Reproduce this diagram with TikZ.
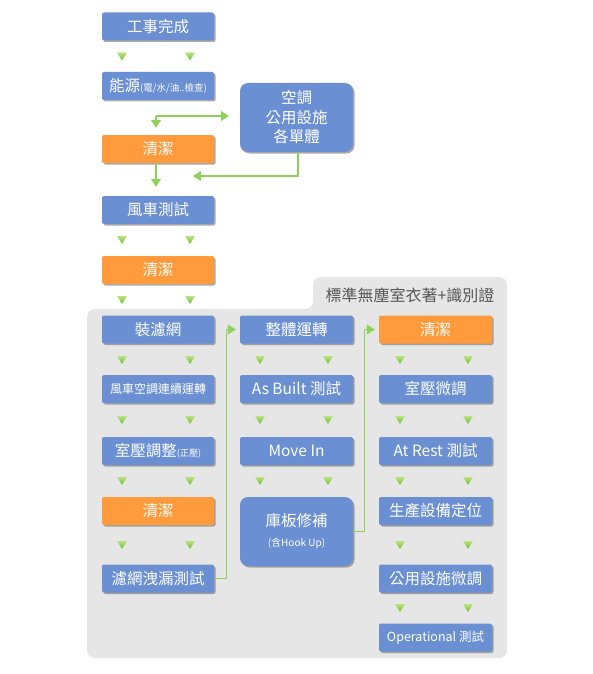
\documentclass[tikz,border=0pt]{standalone}
\usepackage{fontspec}
\setmainfont{Noto Sans CJK TC}
\usetikzlibrary{arrows.meta,shadows}
\definecolor{bx}{HTML}{6A8FD3}
\definecolor{og}{HTML}{FF9B3C}
\definecolor{gl}{HTML}{8ED158}
\definecolor{pn}{HTML}{E6E6E6}
\definecolor{tt}{HTML}{555555}
\definecolor{trt}{HTML}{B9E383}
\definecolor{trb}{HTML}{6CBF2C}
\newcommand\dtri[2]{\shade[top color=trt,bottom color=trb] (#1-5,#2-4) -- (#1+5,#2-4) -- (#1,#2+4) -- cycle;}
\begin{document}
\begin{tikzpicture}[x=1pt,y=-1pt,
 box/.style={draw=none, fill=bx, text=white, rounded corners=2pt, minimum width=112pt, minimum height=28pt, inner sep=0pt, align=center, font=\fontsize{15.5}{18}\selectfont, drop shadow={shadow xshift=1.5pt, shadow yshift=-1.5pt, fill=black!60, opacity=0.55}},
 obox/.style={box, fill=og},
 bigbox/.style={box, minimum width=113pt, minimum height=69pt, rounded corners=8pt},
 conn/.style={draw=gl, line width=1.2pt, -{Triangle[length=8pt,width=10pt,fill=gl]}},
]
\useasboundingbox (0,0) rectangle (592,674);
% panel
\fill[pn, rounded corners=8pt] (87,400) -- (87,309) -- (313,309) -- (313,277) -- (507,277) -- (507,658) -- (87,658) -- cycle;
\node[font=\fontsize{16}{18}\selectfont, text=tt] (title) at (410,295) {標準無塵室衣著+識別證};
% top column
\node[box] (a1) at (158,26.5) {工事完成};
\node[box] (a2) at (158,86) {能源{\fontsize{9.5}{11}\selectfont(電/水/油..檢查)}};
\node[obox] (a3) at (158,149) {清潔};
\node[box] (a4) at (158,210) {風車測試};
\node[obox] (a5) at (158,270) {清潔};
\node[bigbox, font=\fontsize{15.5}{19.5}\selectfont] (ac) at (296.5,117.5) {空調\\公用設施\\各單體};
% panel column 1
\node[box] (b1) at (158,329.5) {裝濾網};
\node[box, font=\fontsize{12}{14}\selectfont] (b2) at (158,389) {風車空調連續運轉};
\node[box] (b3) at (158,451) {室壓調整{\fontsize{9}{11}\selectfont(正壓)}};
\node[obox] (b4) at (158,511) {清潔};
\node[box] (b5) at (158,578.5) {濾網洩漏測試};
% panel column 2
\node[box, minimum width=113pt] (c1) at (296.5,329.5) {整體運轉};
\node[box, minimum width=113pt] (c2) at (296.5,389) {As Built 測試};
\node[box, minimum width=113pt] (c3) at (296.5,451) {Move In};
\node[bigbox] (c4) at (296.5,531.5) {庫板修補\\[2pt]{\fontsize{10}{12}\selectfont(含Hook Up)}};
% panel column 3
\node[obox, minimum width=113pt] (d1) at (435.5,329.5) {清潔};
\node[box, minimum width=113pt] (d2) at (435.5,389) {室壓微調};
\node[box, minimum width=113pt] (d3) at (435.5,451) {At Rest 測試};
\node[box, minimum width=113pt] (d4) at (435.5,511) {生產設備定位};
\node[box, minimum width=113pt] (d5) at (435.5,578.5) {公用設施微調};
\node[box, minimum width=113pt, font=\fontsize{12.5}{15}\selectfont] (d6) at (435.5,637.5) {Operational 測試};
% triangles
\foreach \y in {56.5,240,300,360,420,481,545} {\dtri{122}{\y}\dtri{190}{\y}}
\foreach \y in {360,420,481} {\dtri{260}{\y}\dtri{328}{\y}}
\foreach \y in {360,420,481,545,608} {\dtri{400}{\y}\dtri{468}{\y}}
% connectors
\coordinate (j1) at (156,116);
\coordinate (j2) at (193,176);
\draw[conn, shorten >=11pt] (j1) -- (j1 -| ac.west);
\draw[conn, shorten >=7pt] (j1) -- (j1 |- a3.north);
\draw[conn, shorten >=9pt] (a3.south -| j1) -- (a4.north -| j1);
\draw[conn] ([xshift=1.5pt]ac.south) |- (j2);
\draw[conn, shorten >=4pt] (b5.east) -- ++(12,0) |- (c1.west);
\draw[conn, shorten >=4pt] (c4.east) -- ++(11,0) |- (d1.west);
\end{tikzpicture}
\end{document}
